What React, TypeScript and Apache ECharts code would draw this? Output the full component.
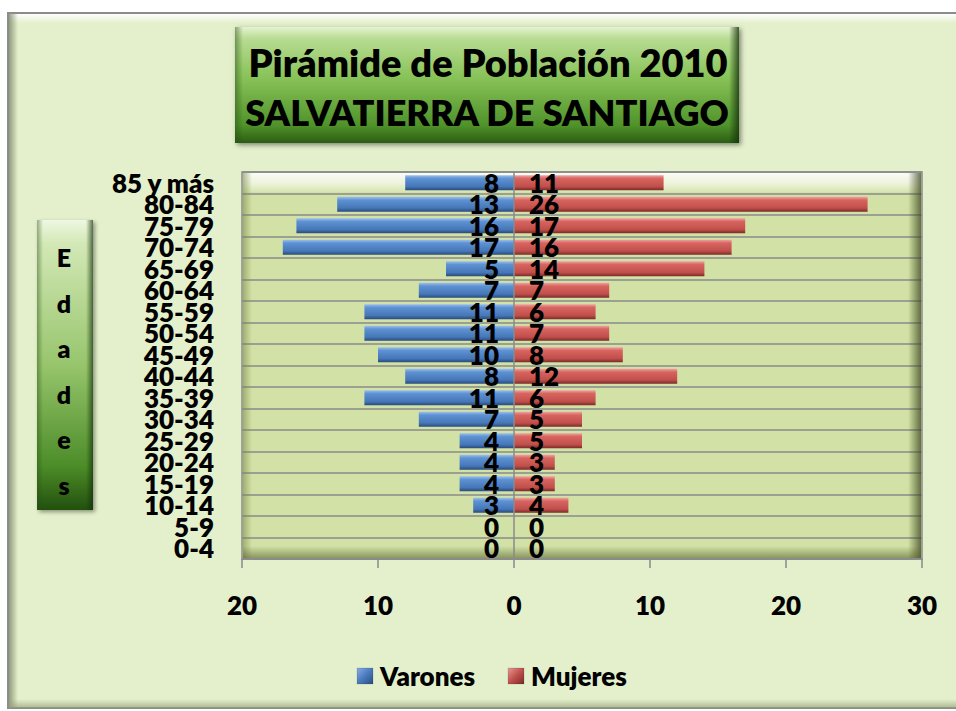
import React, { useEffect, useRef } from 'react';
import * as echarts from 'echarts';

const categories = ['85 y más', '80-84', '75-79', '70-74', '65-69', '60-64', '55-59', '50-54', '45-49', '40-44', '35-39', '30-34', '25-29', '20-24', '15-19', '10-14', '5-9', '0-4'];
const varones = [8, 13, 16, 17, 5, 7, 11, 11, 10, 8, 11, 7, 4, 4, 4, 3, 0, 0];
const mujeres = [11, 26, 17, 16, 14, 7, 6, 7, 8, 12, 6, 5, 5, 3, 3, 4, 0, 0];
const seriesNames = ['Varones', 'Mujeres'];
const titleLines = ['Pirámide de Población 2010', 'SALVATIERRA DE SANTIAGO'];
const axisTitle = 'Edades';
const xMin = -20;
const xMax = 30;
const xInterval = 10;

const FONT = 'Lato, "Noto Sans", sans-serif';
const W = 800;

export default function App() {
  const ref = useRef<HTMLDivElement>(null);

  useEffect(() => {
    document.body.style.margin = '0';
    if (!ref.current) return;
    const chart = echarts.init(ref.current, undefined, { renderer: 'svg' });
    const G = echarts.graphic;

    const blue = new G.LinearGradient(0, 0, 0, 1, [
      { offset: 0, color: '#9cc0ec' },
      { offset: 0.22, color: '#5e92d2' },
      { offset: 0.75, color: '#4677b8' },
      { offset: 1, color: '#284a7c' },
    ]);
    const red = new G.LinearGradient(0, 0, 0, 1, [
      { offset: 0, color: '#eea4a2' },
      { offset: 0.22, color: '#d8645f' },
      { offset: 0.75, color: '#c04f4b' },
      { offset: 1, color: '#7a2a28' },
    ]);
    const legendColors = [
      new G.LinearGradient(0, 0, 1, 1, [{ offset: 0, color: '#86aee4' }, { offset: 0.5, color: '#4a7bbd' }, { offset: 1, color: '#2a4c80' }]),
      new G.LinearGradient(0, 0, 1, 1, [{ offset: 0, color: '#e39a98' }, { offset: 0.5, color: '#c0504d' }, { offset: 1, color: '#7a2a28' }]),
    ];

    const letters = axisTitle.split('');
    const legendX = [357, 508];

    const graphics: any[] = [
      // outer frame
      {
        type: 'rect', z: -10, silent: true,
        shape: { x: 8, y: 13, width: 960, height: 695 },
        style: { fill: '#e4f0cc', stroke: '#8c8c8c', lineWidth: 2 },
      },
      {
        type: 'rect', z: -9, silent: true,
        shape: { x: 9, y: 14, width: 960, height: 9 },
        style: { fill: new G.LinearGradient(0, 0, 0, 1, [{ offset: 0, color: 'rgba(255,255,255,0.95)' }, { offset: 1, color: 'rgba(255,255,255,0)' }]) },
      },
      {
        type: 'rect', z: -9, silent: true,
        shape: { x: 9, y: 14, width: 9, height: 693 },
        style: { fill: new G.LinearGradient(0, 0, 1, 0, [{ offset: 0, color: 'rgba(110,120,90,0.7)' }, { offset: 1, color: 'rgba(110,120,90,0)' }]) },
      },
      {
        type: 'rect', z: -9, silent: true,
        shape: { x: 9, y: 699, width: 960, height: 9 },
        style: { fill: new G.LinearGradient(0, 0, 0, 1, [{ offset: 0, color: 'rgba(150,160,120,0)' }, { offset: 1, color: 'rgba(150,160,120,0.7)' }]) },
      },
      // plot shading
      {
        type: 'rect', z: 1, silent: true,
        shape: { x: 243, y: 173, width: 678, height: 19 },
        style: { fill: new G.LinearGradient(0, 0, 0, 1, [{ offset: 0, color: 'rgba(255,255,255,0.9)' }, { offset: 0.6, color: 'rgba(255,255,255,0.55)' }, { offset: 1, color: 'rgba(255,255,255,0.1)' }]) },
      },
      {
        type: 'rect', z: 1, silent: true,
        shape: { x: 243, y: 173, width: 9, height: 385 },
        style: { fill: new G.LinearGradient(0, 0, 1, 0, [{ offset: 0, color: 'rgba(120,135,70,0.55)' }, { offset: 1, color: 'rgba(120,135,70,0)' }]) },
      },
      {
        type: 'rect', z: 1, silent: true,
        shape: { x: 908, y: 173, width: 13, height: 385 },
        style: { fill: new G.LinearGradient(0, 0, 1, 0, [{ offset: 0, color: 'rgba(60,70,30,0)' }, { offset: 1, color: 'rgba(60,70,30,0.75)' }]) },
      },
      {
        type: 'rect', z: 1, silent: true,
        shape: { x: 243, y: 546, width: 678, height: 12 },
        style: { fill: new G.LinearGradient(0, 0, 0, 1, [{ offset: 0, color: 'rgba(80,90,40,0)' }, { offset: 1, color: 'rgba(80,90,40,0.55)' }]) },
      },
      // title box
      {
        type: 'rect', z: 5, silent: true,
        shape: { x: 235, y: 27, width: 504, height: 116 },
        style: {
          fill: new G.LinearGradient(0, 0, 0, 1, [
            { offset: 0, color: '#e4f3d2' },
            { offset: 0.1, color: '#b8dc92' },
            { offset: 0.45, color: '#86c156' },
            { offset: 0.85, color: '#4f922a' },
            { offset: 1, color: '#2a5c12' },
          ]),
          shadowBlur: 5, shadowColor: 'rgba(0,0,0,0.45)', shadowOffsetX: 2, shadowOffsetY: 2,
        },
      },
      {
        type: 'rect', z: 5, silent: true,
        shape: { x: 235, y: 27, width: 8, height: 116 },
        style: { fill: new G.LinearGradient(0, 0, 1, 0, [{ offset: 0, color: 'rgba(40,80,20,0.5)' }, { offset: 1, color: 'rgba(40,80,20,0)' }]) },
      },
      {
        type: 'rect', z: 5, silent: true,
        shape: { x: 729, y: 27, width: 10, height: 116 },
        style: { fill: new G.LinearGradient(0, 0, 1, 0, [{ offset: 0, color: 'rgba(20,50,10,0)' }, { offset: 1, color: 'rgba(20,50,10,0.8)' }]) },
      },
      {
        type: 'text', z: 6, silent: true,
        style: { text: titleLines[0], x: 488, y: 62, align: 'center', verticalAlign: 'middle', fontFamily: FONT, fontWeight: W, fontSize: 38, fill: '#000' },
      },
      {
        type: 'text', z: 6, silent: true,
        style: { text: titleLines[1], x: 487, y: 112, align: 'center', verticalAlign: 'middle', fontFamily: FONT, fontWeight: W, fontSize: 36, fill: '#000' },
      },
      // Edades box
      {
        type: 'rect', z: 5, silent: true,
        shape: { x: 37, y: 220, width: 56, height: 290 },
        style: {
          fill: new G.LinearGradient(0, 0, 0, 1, [
            { offset: 0, color: '#eef7e2' },
            { offset: 0.08, color: '#d3e8b6' },
            { offset: 0.5, color: '#97c56c' },
            { offset: 0.85, color: '#4c8c28' },
            { offset: 1, color: '#22500e' },
          ]),
          shadowBlur: 4, shadowColor: 'rgba(0,0,0,0.4)', shadowOffsetX: 2, shadowOffsetY: 2,
        },
      },
      {
        type: 'rect', z: 5, silent: true,
        shape: { x: 37, y: 220, width: 6, height: 290 },
        style: { fill: new G.LinearGradient(0, 0, 1, 0, [{ offset: 0, color: 'rgba(40,80,20,0.45)' }, { offset: 1, color: 'rgba(40,80,20,0)' }]) },
      },
      {
        type: 'rect', z: 5, silent: true,
        shape: { x: 86, y: 220, width: 7, height: 290 },
        style: { fill: new G.LinearGradient(0, 0, 1, 0, [{ offset: 0, color: 'rgba(20,50,10,0)' }, { offset: 1, color: 'rgba(20,50,10,0.7)' }]) },
      },
      ...letters.map((ch, i) => ({
        type: 'text', z: 6, silent: true,
        style: { text: ch, x: 64, y: 257 + i * 45.6, align: 'center', verticalAlign: 'middle', fontFamily: FONT, fontWeight: W, fontSize: 25, fill: '#000' },
      })),
      // legend (drawn as graphics so the text can be bold)
      ...seriesNames.flatMap((name, i) => [
        {
          type: 'rect', z: 6, silent: true,
          shape: { x: legendX[i], y: 668, width: 16, height: 16 },
          style: { fill: legendColors[i], stroke: 'rgba(0,0,0,0.25)', lineWidth: 0.5 },
        },
        {
          type: 'text', z: 6, silent: true,
          style: { text: name, x: legendX[i] + 23, y: 676, align: 'left', verticalAlign: 'middle', fontFamily: FONT, fontWeight: W, fontSize: 26, fill: '#000' },
        },
      ]),
    ];

    const labelStyle = {
      show: true,
      fontFamily: FONT,
      fontWeight: W as any,
      fontSize: 26,
      color: '#000',
      distance: 15,
      formatter: (p: any) => String(Math.abs(p.value)),
    };

    chart.setOption({
      animation: false,
      textStyle: { fontFamily: FONT },
      graphic: graphics,
      grid: {
        left: 242, top: 172, width: 680, height: 387,
        show: true, backgroundColor: '#d2e2a6', borderColor: '#8a8a8a', borderWidth: 1.5,
        containLabel: false,
      },
      legend: { show: false, data: seriesNames },
      xAxis: {
        type: 'value', min: xMin, max: xMax, interval: xInterval,
        axisLine: { show: true, lineStyle: { color: '#8a8a8a', width: 1.5 } },
        axisTick: { show: true, length: 9, lineStyle: { color: '#8a8a8a', width: 1.5 } },
        axisLabel: {
          formatter: (v: number) => String(Math.abs(v)),
          fontFamily: FONT, fontWeight: W, fontSize: 26, color: '#000', margin: 33,
        },
        splitLine: { show: false },
      },
      yAxis: {
        type: 'category', data: categories, inverse: true,
        axisLine: { show: false },
        axisTick: { show: false },
        axisLabel: { interval: 0, fontFamily: FONT, fontWeight: W, fontSize: 26, color: '#000', margin: 28, lineHeight: 22 },
        splitLine: { show: true, lineStyle: { color: '#8a8a8a', width: 1.5 } },
      },
      series: [
        {
          name: seriesNames[0], type: 'bar', stack: 'total', barWidth: 15,
          data: varones.map((v) => -v),
          itemStyle: { color: blue },
          label: { ...labelStyle, position: 'insideRight' },
          markLine: {
            silent: true, symbol: 'none',
            lineStyle: { color: '#8a8a8a', width: 1.5, type: 'solid' },
            label: { show: false },
            data: [{ xAxis: 0 }],
          },
        },
        {
          name: seriesNames[1], type: 'bar', stack: 'total', barWidth: 15,
          data: mujeres,
          itemStyle: { color: red },
          label: { ...labelStyle, position: 'insideLeft' },
        },
      ],
    });

    return () => chart.dispose();
  }, []);

  return <div ref={ref} style={{ width: 956, height: 711 }} />;
}
